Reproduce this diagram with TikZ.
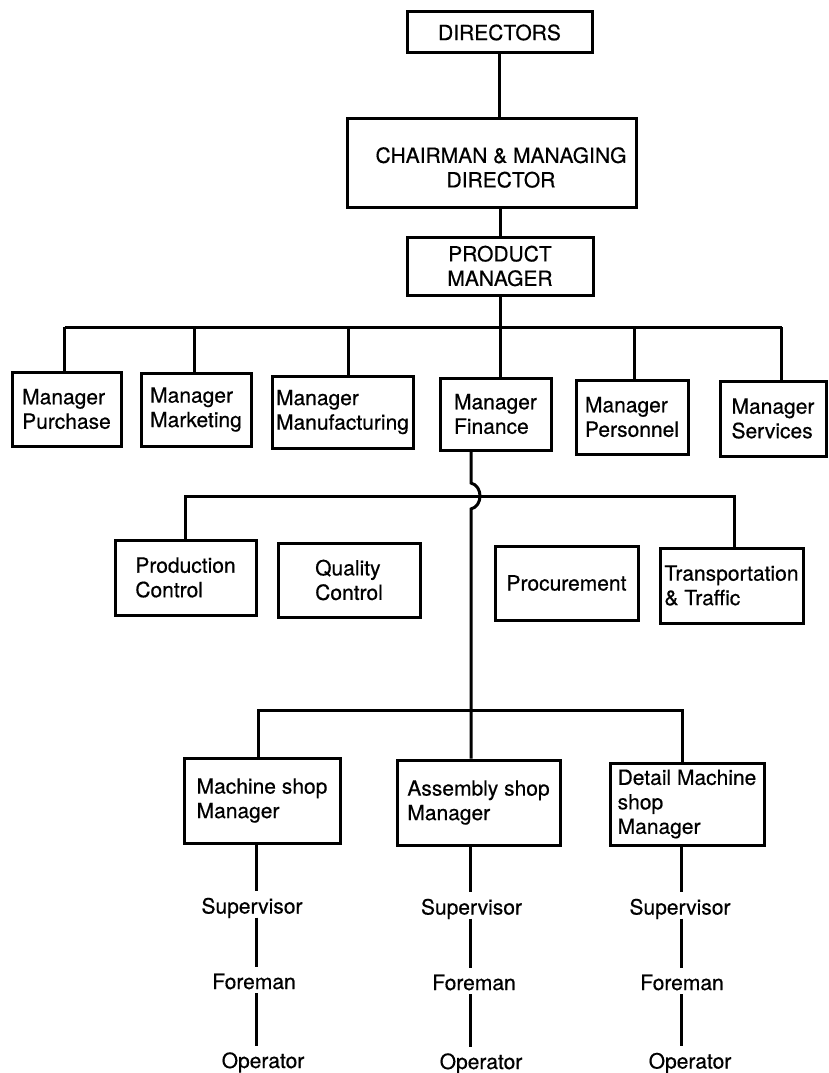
\documentclass[tikz,border=0pt]{standalone}
\usepackage{fontspec}
\setmainfont{TeX Gyre Heros}[FakeBold=0.5]
\begin{document}
\begin{tikzpicture}[x=1pt,y=-1pt,
  every node/.style={font=\fontsize{21}{24.5}\selectfont},
  box/.style={draw, line width=3pt, inner sep=0pt},
  conn/.style={line width=3pt},
  rank/.style={anchor=base, inner sep=4pt, text height=18pt, text depth=0pt}
]
\useasboundingbox (0,0) rectangle (828,1073);

% top of the hierarchy
\node[box, minimum width=185, minimum height=41] (dir) at (499.5,32.5) {DIRECTORS};
\node[box, minimum width=289, minimum height=89] (chairbox) at (491.5,162.5) {};
\node[align=center, inner sep=0pt] (chairtxt) at (501,167.5) {CHAIRMAN \& MANAGING\\DIRECTOR};
\node[box, align=center, minimum width=186, minimum height=58] (pm) at (500,266) {PRODUCT\\MANAGER};

% functional managers
\node[box, align=left, minimum width=109, minimum height=74] (pur) at (66.5,409) {Manager\\Purchase};
\node[box, align=left, minimum width=110, minimum height=73] (mkt) at (196,409.5) {Manager\\Marketing};
\node[box, align=left, minimum width=141, minimum height=72] (mfg) at (342.5,412) {Manager\\Manufacturing};
\node[box, align=left, minimum width=111, minimum height=72] (fin) at (495.5,414) {Manager\\Finance};
\node[box, align=left, minimum width=112, minimum height=74] (per) at (632,417) {Manager\\Personnel};
\node[box, align=left, minimum width=106, minimum height=75] (ser) at (773,418.5) {Manager\\Services};

% staff departments
\node[box, align=left, minimum width=141, minimum height=75] (pc) at (185.5,577.5) {Production\\Control};
\node[box, align=left, minimum width=142, minimum height=74] (qc) at (349,580) {Quality\\Control};
\node[box, align=left, minimum width=143, minimum height=74] (proc) at (566.5,583) {Procurement};
\node[box, align=left, minimum width=143, minimum height=75] (tr) at (731.5,585.5) {Transportation\\\& Traffic};

% shop managers
\node[box, align=left, minimum width=156, minimum height=85] (msh) at (262,800.5) {Machine shop\\Manager};
\node[box, align=left, minimum width=163, minimum height=85] (ash) at (478.5,802.5) {Assembly shop\\Manager};
\node[box, align=left, minimum width=154, minimum height=82] (dsh) at (687,804) {Detail Machine\\shop\\Manager};

% shop floor ranks
\node[rank] (sup1) at (252,913.5) {Supervisor};
\node[rank] (fore1) at (254,989) {Foreman};
\node[rank] (oper1) at (263,1068) {Operator};
\node[rank] (sup2) at (471.5,914.5) {Supervisor};
\node[rank] (fore2) at (474,990) {Foreman};
\node[rank] (oper2) at (481,1069) {Operator};
\node[rank] (sup3) at (680,914.5) {Supervisor};
\node[rank] (fore3) at (682,990) {Foreman};
\node[rank] (oper3) at (690,1068.5) {Operator};

% vertical chain at the top
\draw[conn] (dir.south) -- (dir.south |- chairbox.north);
\draw[conn] (pm.north) -- (pm.north |- chairbox.south);
\draw[conn] (pm.south) -- (pm.south |- fin.north);

% bus to the functional managers
\coordinate (busL) at (64.5,327);
\coordinate (busR) at (781.5,327);
\coordinate (dMkt) at (194,327);
\coordinate (dMfg) at (348.5,327);
\coordinate (dPer) at (634,327);
\draw[conn] (busL) -- (busR);
\draw[conn] (busL) -- (busL |- pur.north);
\draw[conn] (dMkt) -- (dMkt |- mkt.north);
\draw[conn] (dMfg) -- (dMfg |- mfg.north);
\draw[conn] (dPer) -- (dPer |- per.north);
\draw[conn] (busR) -- (busR |- ser.north);

% bus to the staff departments
\coordinate (b2R) at (734,496);
\draw[conn] (pc.north) |- (b2R) -- (b2R |- tr.north);

% line from finance down to the shops, hopping over the staff bus
\coordinate (hopT) at (471,483);
\coordinate (hopB) at (471,509);
\draw[conn] (fin.south -| hopT) -- (hopT) .. controls (483,486) and (483,506) .. (hopB) -- (hopB |- ash.north);

% bus to the shop managers
\coordinate (b3L) at (258,710);
\coordinate (b3R) at (682,710);
\draw[conn] (b3L |- msh.north) -- (b3L) -- (b3R) -- (b3R |- dsh.north);

% rank chains under each shop
\coordinate (c1) at (256,0);
\coordinate (c2) at (470.5,0);
\coordinate (c3) at (681.5,0);
\draw[conn] (msh.south -| c1) -- (sup1.north -| c1);
\draw[conn] (sup1.south -| c1) -- (fore1.north -| c1);
\draw[conn] (fore1.south -| c1) -- (oper1.north -| c1);
\draw[conn] (ash.south -| c2) -- (sup2.north -| c2);
\draw[conn] (sup2.south -| c2) -- (fore2.north -| c2);
\draw[conn] (fore2.south -| c2) -- (oper2.north -| c2);
\draw[conn] (dsh.south -| c3) -- (sup3.north -| c3);
\draw[conn] (sup3.south -| c3) -- (fore3.north -| c3);
\draw[conn] (fore3.south -| c3) -- (oper3.north -| c3);
\end{tikzpicture}
\end{document}
